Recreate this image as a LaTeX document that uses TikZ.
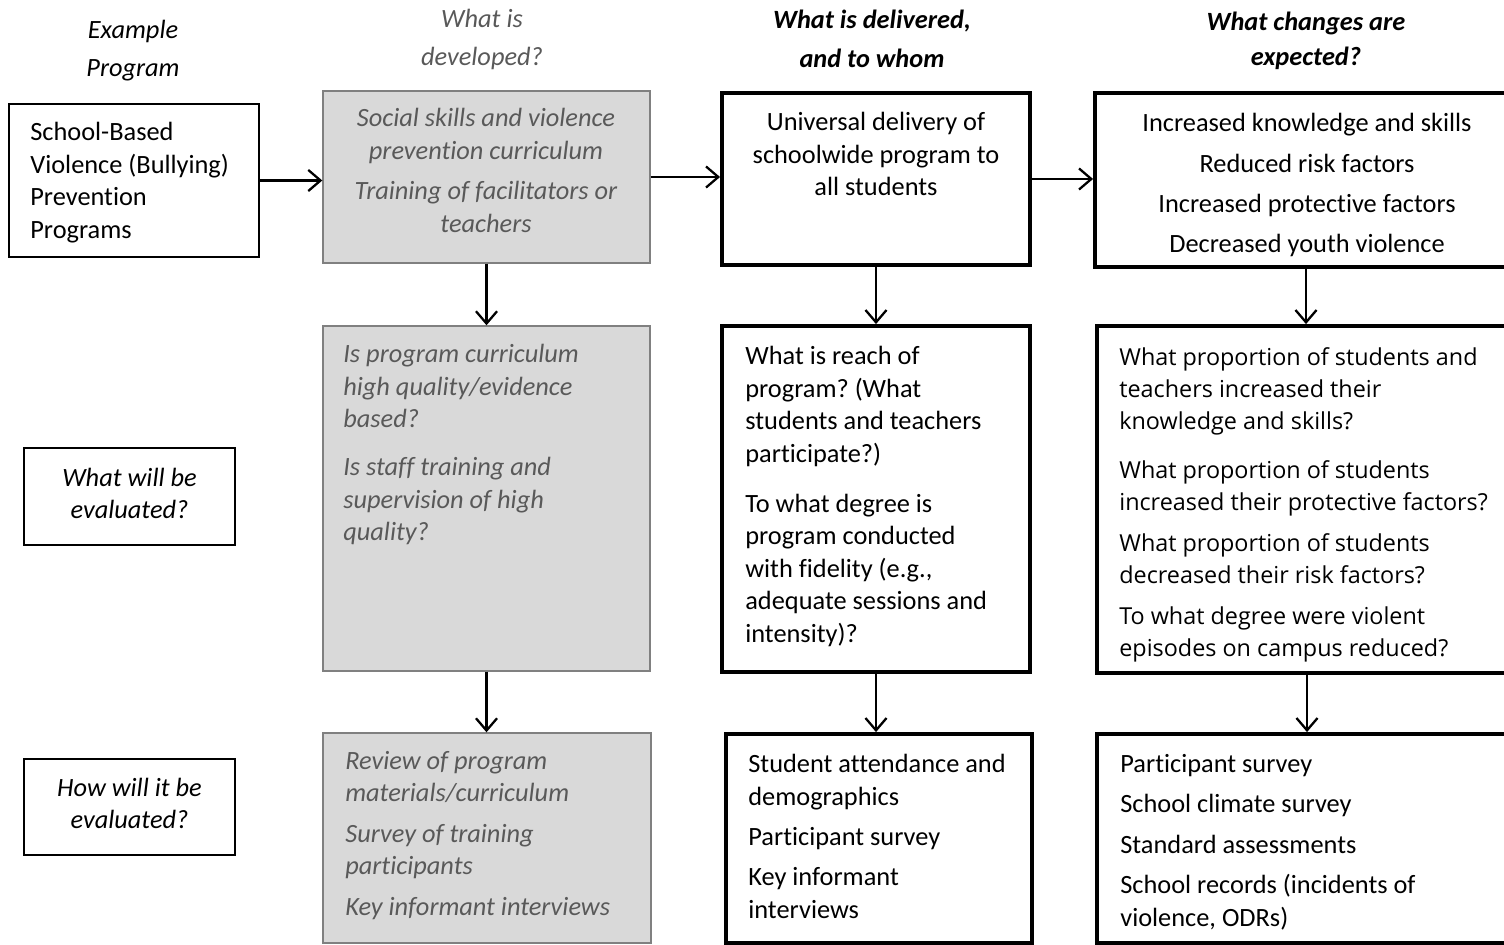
\documentclass[tikz,border=0pt]{standalone}
\usepackage{fontspec}
\setmainfont[Ligatures=NoCommon]{Carlito}
\newfontfamily\opensans{Open Sans}
\usetikzlibrary{arrows.meta,fit}
\definecolor{boxgray}{HTML}{D9D9D9}
\definecolor{txtgray}{HTML}{595959}
\frenchspacing
\tikzset{
  thinbox/.style={draw, line width=0.8pt, inner sep=0pt},
  greybox/.style={draw=gray, fill=boxgray, line width=0.8pt, inner sep=0pt},
  thickbox/.style={draw, line width=2.2pt, inner sep=0pt},
  txt/.style={inner sep=0pt, font=\fontsize{15}{18.5}\selectfont},
  devtxt/.style={txt, text=txtgray, font=\fontsize{15}{18.5}\selectfont\itshape},
  head/.style={inner sep=0pt, anchor=north, align=center},
  flow/.style={-{Straight Barb[length=7pt,width=12pt]}, line width=1.3pt},
}
\begin{document}
\begin{tikzpicture}[x=0.02cm, y=-0.02cm]
\useasboundingbox (0,0) rectangle (1504,945);

% column headings
\node[head, font=\fontsize{15}{18.5}\selectfont\itshape] (hprog) at (133,20) {Example\\[3pt]Program};
\node[head, text=txtgray, font=\fontsize{15}{18.5}\selectfont\itshape] (hdev) at (482,9) {What is\\[3pt]developed?};
\node[head, font=\fontsize{15}{18.5}\selectfont\bfseries\itshape] (hdeliv) at (872,10) {What is delivered,\\[3.5pt]and to whom};
\node[head, font=\fontsize{15}{18.5}\selectfont\bfseries\itshape] (hchg) at (1306,12) {What changes are\\[1pt]expected?};

% boxes
\node[thinbox, fit={(9,104) (259,257)}] (prog) {};
\node[greybox, fit={(323,91) (650,263)}] (dev1) {};
\node[thickbox, fit={(722,93) (1030,265)}] (deliv1) {};
\node[thickbox, fit={(1095,93) (1517,267)}] (chg1) {};

\node[thinbox, fit={(24,448) (235,545)}] (what) {};
\node[greybox, fit={(323,326) (650,671)}] (dev2) {};
\node[thickbox, fit={(722,326) (1030,672)}] (deliv2) {};
\node[thickbox, fit={(1097,326) (1517,673)}] (chg2) {};

\node[thinbox, fit={(24,759) (235,855)}] (how) {};
\node[greybox, fit={(323,733) (651,943)}] (dev3) {};
\node[thickbox, fit={(726,734) (1032,943)}] (deliv3) {};
\node[thickbox, fit={(1097,734) (1517,943)}] (chg3) {};

% box texts
\node[txt, anchor=north west, align=left] (progt) at (30,122) {School-Based\\Violence (Bullying)\\Prevention\\Programs};
\node[devtxt, anchor=north, align=center] (dev1t) at (486,108) {Social skills and violence\\prevention curriculum\\[4.5pt]Training of facilitators or\\teachers};
\node[txt, anchor=north, align=center] (deliv1t) at (876,112) {Universal delivery of\\schoolwide program to\\all students};
\node[txt, anchor=north, align=center] (chg1t) at (1307,113) {Increased knowledge and skills\\[4.5pt]Reduced risk factors\\[4.5pt]Increased protective factors\\[4.5pt]Decreased youth violence};

\node[txt, align=center, font=\fontsize{15}{18.5}\selectfont\itshape] (whatt) at (129.5,493.5) {What will be\\evaluated?};
\node[devtxt, anchor=north west, align=left] (dev2t) at (343,344) {Is program curriculum\\high quality/evidence\\based?\\[9pt]Is staff training and\\supervision of high\\quality?};
\node[txt, anchor=north west, align=left] (deliv2t) at (745,346) {What is reach of\\program? (What\\students and teachers\\participate?)\\[10pt]To what degree is\\program conducted\\with fidelity (e.g.,\\adequate sessions and\\intensity)?};
\node[txt, anchor=north west, align=left, font=\fontsize{13.3}{18.2}\opensans] (chg2t) at (1119,347) {What proportion of students and\\teachers increased their\\knowledge and skills?\\[10pt]What proportion of students\\increased their protective factors?\\[5pt]What proportion of students\\decreased their risk factors?\\[5pt]To what degree were violent\\episodes on campus reduced?};

\node[txt, align=center, font=\fontsize{15}{18.5}\selectfont\itshape] (howt) at (129.5,803.5) {How will it be\\evaluated?};
\node[devtxt, anchor=north west, align=left] (dev3t) at (345,751) {Review of program\\materials/curriculum\\[4.5pt]Survey of training\\participants\\[4.5pt]Key informant interviews};
\node[txt, anchor=north west, align=left] (deliv3t) at (748,754) {Student attendance and\\demographics\\[4.5pt]Participant survey\\[4.5pt]Key informant\\interviews};
\node[txt, anchor=north west, align=left] (chg3t) at (1120,754) {Participant survey\\[4.5pt]School climate survey\\[4.5pt]Standard assessments\\[4.5pt]School records (incidents of\\violence, ODRs)};

% arrows
\draw[flow] (prog.east) -- (prog.east -| dev1.west);
\draw[flow] (dev1.east) -- (dev1.east -| deliv1.west);
\draw[flow] (deliv1.east) -- (deliv1.east -| chg1.west);

\draw[flow] (dev1.south) -- (dev1.south |- dev2.north);
\draw[flow] (deliv1.south) -- (deliv1.south |- deliv2.north);
\draw[flow] (chg1.south) -- (chg1.south |- chg2.north);

\draw[flow] (dev2.south) -- (dev2.south |- dev3.north);
\draw[flow] (deliv2.south) -- (deliv2.south |- deliv3.north);
\draw[flow] (chg2.south) -- (chg2.south |- chg3.north);
\end{tikzpicture}
\end{document}
